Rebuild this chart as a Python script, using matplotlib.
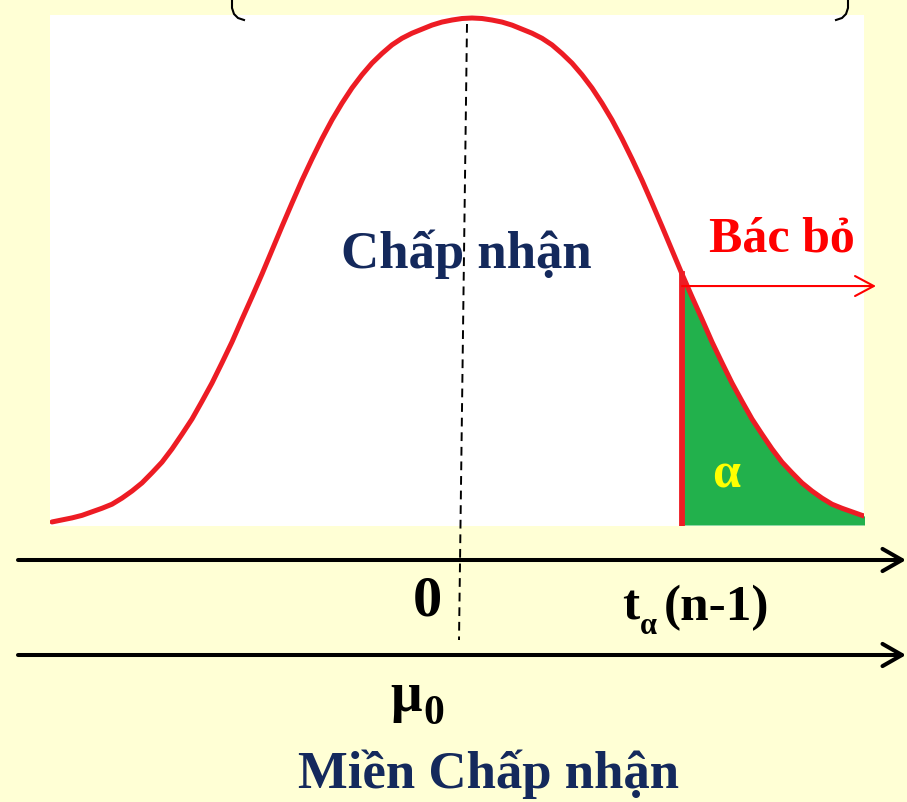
import numpy as np
import matplotlib
matplotlib.use("Agg")
import matplotlib.pyplot as plt

# right half of the bell curve: position (in curve units) and relative height
half_t = [0.0, 0.05, 0.1, 0.15, 0.2, 0.25, 0.3, 0.35, 0.4, 0.45, 0.5,
          0.55, 0.6, 0.65, 0.7, 0.75, 0.8, 0.85, 0.9, 0.95, 1.0, 1.05,
          1.1, 1.15, 1.2, 1.25, 1.3, 1.35, 1.4, 1.45, 1.5, 1.55, 1.6,
          1.65, 1.7, 1.75, 1.8, 1.85, 1.9, 1.95, 2.0, 2.05, 2.1]
half_density = [1.000, 0.999, 0.996, 0.992, 0.986, 0.978, 0.970, 0.960,
                0.947, 0.930, 0.911, 0.888, 0.862, 0.832, 0.799, 0.762,
                0.722, 0.680, 0.635, 0.589, 0.542, 0.495, 0.450, 0.406,
                0.361, 0.320, 0.280, 0.244, 0.209, 0.179, 0.150, 0.124,
                0.103, 0.083, 0.067, 0.053, 0.041, 0.033, 0.026, 0.019,
                0.014, 0.010, 0.006]
t_alpha = 1.05

label_accept = "Chấp nhận"
label_reject = "Bác bỏ"
label_region = "Miền Chấp nhận"

BG = "#FFFFD5"
RED = "#ED1C24"
GREEN = "#22B14C"
NAVY = "#14295C"
SERIF = ["Liberation Serif", "DejaVu Serif"]

W, H = 907, 802
fig = plt.figure(figsize=(W / 100, H / 100), dpi=100, facecolor=BG)

# white panel holding the density curve
box_l, box_r, box_t, box_b = 50, 864, 15, 526
cx, unit, base, peak_h = 472, 200, 525, 507
ax = fig.add_axes([box_l / W, (H - box_b) / H, (box_r - box_l) / W, (box_b - box_t) / H])
ax.set_facecolor("white")
ax.set_xlim((box_l - cx) / unit, (box_r - cx) / unit)
ax.set_ylim((base - box_b) / peak_h, (base - box_t) / peak_h)
ax.axis("off")
ax.add_patch(plt.Rectangle((0, 0), 1, 1, transform=ax.transAxes, color="white", zorder=0))

t = np.array(half_t)
d = np.array(half_density)
x = np.concatenate([-t[::-1], t[1:]])
y = np.concatenate([d[::-1], d[1:]])

tail = x >= t_alpha
ax.fill_between(x[tail], 0, y[tail], color=GREEN, lw=0, zorder=2)
ax.plot(x, y, color=RED, lw=3.6, solid_capstyle="round", solid_joinstyle="round", zorder=3)
crit_h = half_density[half_t.index(t_alpha)]
ax.plot([t_alpha, t_alpha], [-0.01, crit_h], color=RED, lw=4.2, zorder=4)

# overlay in pixel coordinates for axes arrows, labels and guides
ov = fig.add_axes([0, 0, 1, 1], facecolor="none")
ov.set_xlim(0, W)
ov.set_ylim(H, 0)
ov.axis("off")

# bracket ends peeking in at the top
ov.plot([232, 232, 234, 238, 244], [-2, 8, 14, 18, 20], color="black", lw=1.5)
ov.plot([848, 848, 846, 842, 836], [-2, 8, 14, 18, 20], color="black", lw=1.5)

# dashed line through the mean
ov.plot([467, 459], [24, 640], color="black", lw=1.4, dashes=(4.5, 3))

for yy in (560, 655):
    ov.annotate("", xy=(906, yy), xytext=(18, yy),
                arrowprops=dict(arrowstyle="->,head_length=1.4,head_width=0.8",
                                lw=2.9, color="black", shrinkA=0, shrinkB=0))

crit_px = cx + t_alpha * unit
crit_top = base - crit_h * peak_h
ov.annotate("", xy=(876, crit_top + 12), xytext=(crit_px, crit_top + 12),
            arrowprops=dict(arrowstyle="->,head_length=1.35,head_width=0.72",
                            lw=1.5, color="#FF0000", shrinkA=0, shrinkB=0))

bold = dict(family=SERIF, fontweight="bold", va="baseline")
ov.text(466, 268, label_accept, color=NAVY, fontsize=38, ha="center", **bold)
ov.text(782, 252, label_reject, color="#FF0000", fontsize=36, ha="center", **bold)
ov.text(726, 487, "α", color="#FFFF00", fontsize=36, ha="center", **bold)
ov.text(427, 615, "0", color="black", fontsize=42, ha="center", **bold)
ov.text(622, 620, "t", color="black", fontsize=37, ha="left", **bold)
ov.text(640, 634, "α", color="black", fontsize=22, ha="left", **bold)
ov.text(664, 620, "(n-1)", color="black", fontsize=37, ha="left", **bold)
ov.text(390, 711, "μ", color="black", fontsize=40, ha="left", **bold)
ov.text(423, 724, "0", color="black", fontsize=30, ha="left", **bold)
ov.text(488, 788, label_region, color=NAVY, fontsize=38, ha="center", **bold)

fig.savefig("out.png", dpi=100, facecolor=BG)
